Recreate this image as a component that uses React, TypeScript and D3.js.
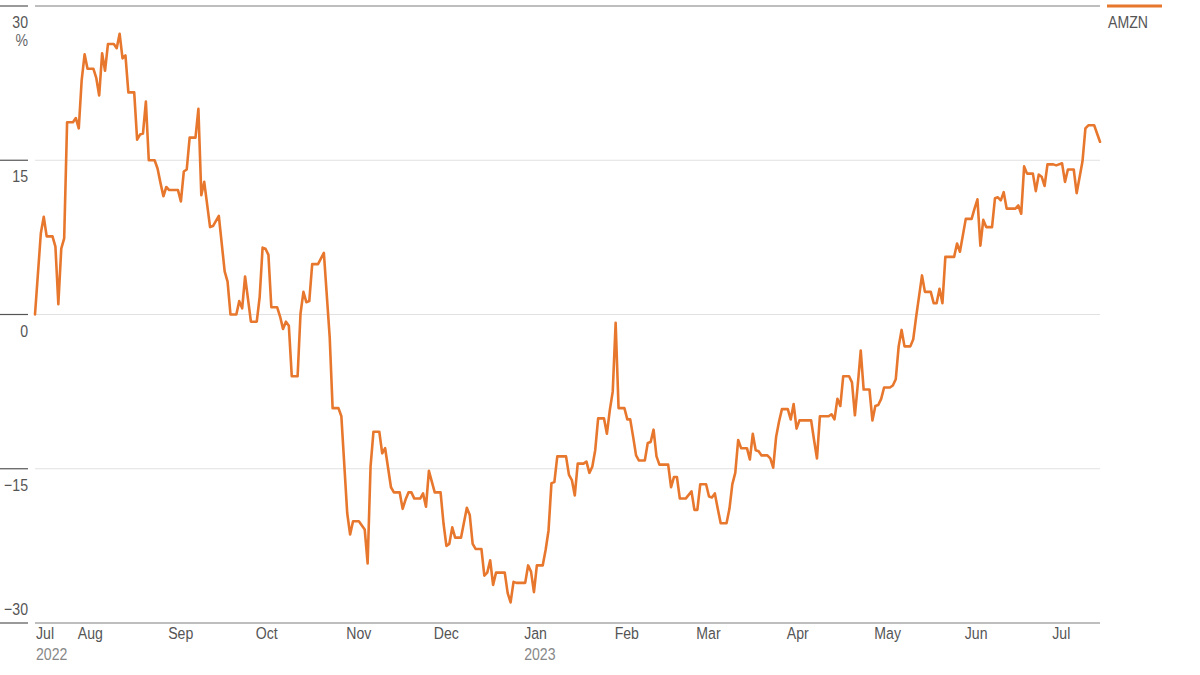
// App.tsx
// AMZN one-year total return line, drawn with D3 scales into JSX
import React from "react";
import * as d3 from "d3";

// data starts on this day, points are [days since start, % change]
const START = new Date(2022, 6, 17);
const END = new Date(2023, 6, 17);

const amznPoints: [number, number][] = [
  // Jul - Sep 2022
  [0, 0], [2, 7.9], [3, 9.5], [4, 7.6], [6, 7.6], [7, 6.6], [8, 1.0], [9, 6.4], [10, 7.4], [11, 18.7],
  [13, 18.7], [14, 19.1], [15, 18.1], [16, 22.8], [17, 25.3], [18, 23.9], [20, 23.9], [21, 23.0], [22, 21.3],
  [23, 25.4], [24, 23.7], [25, 26.3], [27, 26.3], [28, 25.9], [29, 27.3], [30, 24.9], [31, 25.2], [32, 21.6],
  [34, 21.6], [35, 17.0], [36, 17.5], [37, 17.6], [38, 20.7], [39, 15.0], [41, 15.0], [42, 14.2], [43, 12.8],
  [44, 11.5], [45, 12.4], [46, 12.1], [49, 12.1], [50, 11.0], [51, 13.9], [52, 14.1], [53, 17.2], [55, 17.2],
  [56, 20.0], [57, 11.6], [58, 12.9], [60, 8.5], [61, 8.6], [63, 9.6],
  // Oct - Nov
  [65, 4.2], [66, 3.2], [67, 0], [69, 0], [70, 1.3], [71, 0.6], [72, 3.7], [74, -0.7], [76, -0.7], [77, 1.7],
  [78, 6.5], [79, 6.4], [80, 5.8], [81, 0.7], [83, 0.7], [84, -0.2], [85, -1.4], [86, -0.7], [87, -1.1],
  [88, -6.0], [90, -6.0], [91, 0.1], [92, 2.2], [93, 1.2], [94, 1.3], [95, 4.9], [97, 4.9], [99, 6.0],
  [101, -2.2], [102, -9.1], [104, -9.1], [105, -9.9], [107, -19.3], [108, -21.4], [109, -20.1], [111, -20.1],
  [113, -20.9], [114, -24.2], [115, -14.8], [116, -11.4], [118, -11.4],
  // Nov - Jan
  [119, -13.5], [120, -13.0], [122, -16.8], [123, -17.3], [125, -17.3], [126, -18.9], [127, -18.0], [128, -17.3],
  [129, -17.3], [130, -17.9], [132, -17.9], [133, -17.4], [134, -18.7], [135, -15.2], [137, -17.3], [139, -17.3],
  [140, -20.3], [141, -22.5], [142, -22.3], [143, -20.7], [144, -21.7], [146, -21.7], [148, -18.8], [149, -19.5],
  [150, -22.3], [151, -22.8], [153, -22.8], [154, -25.4], [155, -25.1], [156, -23.9], [157, -26.3], [158, -25.1],
  [161, -25.1], [162, -27.1], [163, -28.0], [164, -26.0], [165, -26.1], [168, -26.1], [169, -24.4], [170, -25.0],
  [171, -27.0], [172, -24.4], [174, -24.4], [175, -22.9], [176, -21.0], [177, -16.4], [178, -16.3], [179, -13.8],
  // Jan - Mar 2023
  [182, -13.8], [183, -15.6], [184, -16.1], [185, -17.6], [186, -14.5], [188, -14.5], [189, -14.3], [190, -15.4],
  [191, -14.8], [192, -13.2], [193, -10.1], [195, -10.1], [196, -11.6], [197, -9.3], [198, -7.5], [199, -0.8],
  [200, -9.1], [202, -9.1], [203, -10.2], [204, -10.2], [205, -11.9], [206, -13.7], [207, -14.2], [209, -14.2],
  [210, -12.5], [211, -12.4], [212, -11.2], [213, -13.8], [214, -14.6], [217, -14.6], [218, -16.8], [219, -15.8],
  [220, -15.8], [221, -17.9], [223, -17.9], [225, -17.2], [226, -19.0], [227, -19.0], [228, -16.5], [230, -16.5],
  [231, -17.7], [232, -17.8], [233, -17.4], [234, -18.9], [235, -20.3], [237, -20.3], [238, -18.9], [239, -16.5],
  [240, -15.4], [241, -12.2],
  // Mar - May
  [242, -13.0], [244, -13.0], [245, -14.1], [246, -11.6], [247, -13.2], [248, -13.3], [249, -13.7], [251, -13.7],
  [252, -14.0], [253, -14.9], [254, -11.9], [255, -10.4], [256, -9.2], [258, -9.2], [259, -10.2], [260, -8.7],
  [261, -11.1], [262, -10.3], [266, -10.3], [267, -12.2], [268, -14.0], [269, -9.9], [272, -9.9], [273, -9.7],
  [274, -10.2], [275, -8.2], [276, -8.9], [277, -6.0], [279, -6.0], [280, -6.6], [281, -9.8], [282, -6.8],
  [283, -3.5], [284, -7.3], [286, -7.3], [287, -10.3], [288, -8.9], [289, -8.8], [290, -8.2], [291, -7.1],
  [293, -7.1], [294, -6.9], [295, -6.3], [296, -3.1], [297, -1.5], [298, -3.1], [300, -3.1], [301, -2.4],
  [302, -0.2],
  // May - Jul
  [304, 3.8], [305, 2.2], [307, 2.2], [308, 1.1], [309, 1.1], [310, 2.5], [311, 1.1], [312, 5.6], [315, 5.6],
  [316, 6.9], [317, 6.1], [319, 9.3], [321, 9.3], [322, 10.3], [323, 11.2], [324, 6.7], [325, 9.2], [326, 8.5],
  [328, 8.5], [329, 11.3], [330, 11.4], [331, 11.1], [332, 11.9], [333, 10.3], [336, 10.3], [337, 10.6],
  [338, 9.8], [339, 14.4], [340, 13.7], [342, 13.7], [343, 12.0], [344, 13.6], [345, 13.4], [346, 12.5],
  [347, 14.6], [349, 14.6], [350, 14.5], [352, 14.7], [353, 12.9], [354, 14.1], [356, 14.1], [357, 11.8],
  [359, 14.9], [360, 18.1], [361, 18.4], [363, 18.4], [365, 16.8],
];

const yTicks = [30, 15, 0, -15, -30];
const yearLabels: [Date, string][] = [
  [START, "2022"],
  [new Date(2023, 0, 1), "2023"],
];
const seriesName = "AMZN";

const FONT = "'Liberation Sans', Arial, sans-serif";
const ORANGE = "#e8772e";
const SQUEEZE = 0.83; // condensed look: no narrow face installed

// text squeezed horizontally around its anchor point
function Label({ x, y, anchor = "start", fill = "#555", children }:
  { x: number; y: number; anchor?: "start" | "end"; fill?: string; children: React.ReactNode }) {
  return (
    <text transform={`translate(${x},${y}) scale(${SQUEEZE},1)`} textAnchor={anchor}
      fontFamily={FONT} fontSize={17} fill={fill}>
      {children}
    </text>
  );
}

export default function App() {
  const width = 1200, height = 675;
  const left = 35, right = 1100;

  const x = d3.scaleTime().domain([START, END]).range([left, right]);
  const y = d3.scaleLinear().domain([-30, 30]).range([623, 6]);

  const line = d3.line<[number, number]>()
    .x(d => x(d3.timeDay.offset(START, d[0])))
    .y(d => y(d[1]));

  // month labels: first one sits on the left edge
  const months = [START, ...d3.timeMonth.range(d3.timeDay.offset(START, 1), END)];
  const fmt = d3.timeFormat("%b");

  return (
    <svg width={width} height={height} style={{ position: "absolute", left: 0, top: 0, background: "#fff" }}>
      {/* gridlines + left stubs */}
      {yTicks.map((t, i) => {
        const yy = y(t);
        const edge = i === 0 || i === yTicks.length - 1;
        return (
          <g key={t}>
            <line x1={left} x2={right} y1={yy} y2={yy}
              stroke={edge ? "#a8a8a8" : "#e1e1e1"} strokeWidth={edge ? 1.5 : 1} />
            <line x1={0} x2={28} y1={yy} y2={yy} stroke="#555" strokeWidth={1.2} />
            <Label x={28} y={t === -30 ? yy - 8 : yy + 22} anchor="end">
              {t < 0 ? `\u2212${Math.abs(t)}` : t}
            </Label>
          </g>
        );
      })}
      <Label x={28} y={46} anchor="end" fill="#666">%</Label>

      {/* x labels */}
      {months.map((m, i) => (
        <Label key={i} x={i === 0 ? x(m) + 1 : x(m) - 1} y={639}>{fmt(m)}</Label>
      ))}
      {yearLabels.map(([d, label], i) => (
        <Label key={label} x={i === 0 ? x(d) + 1 : x(d) - 1} y={660} fill="#888">{label}</Label>
      ))}

      {/* series */}
      <path d={line(amznPoints) ?? ""} fill="none" stroke={ORANGE} strokeWidth={2.6}
        strokeLinejoin="round" strokeLinecap="round" />

      {/* legend */}
      <line x1={1107} x2={1162} y1={6} y2={6} stroke={ORANGE} strokeWidth={3} />
      <Label x={1108} y={28}>{seriesName}</Label>
    </svg>
  );
}
